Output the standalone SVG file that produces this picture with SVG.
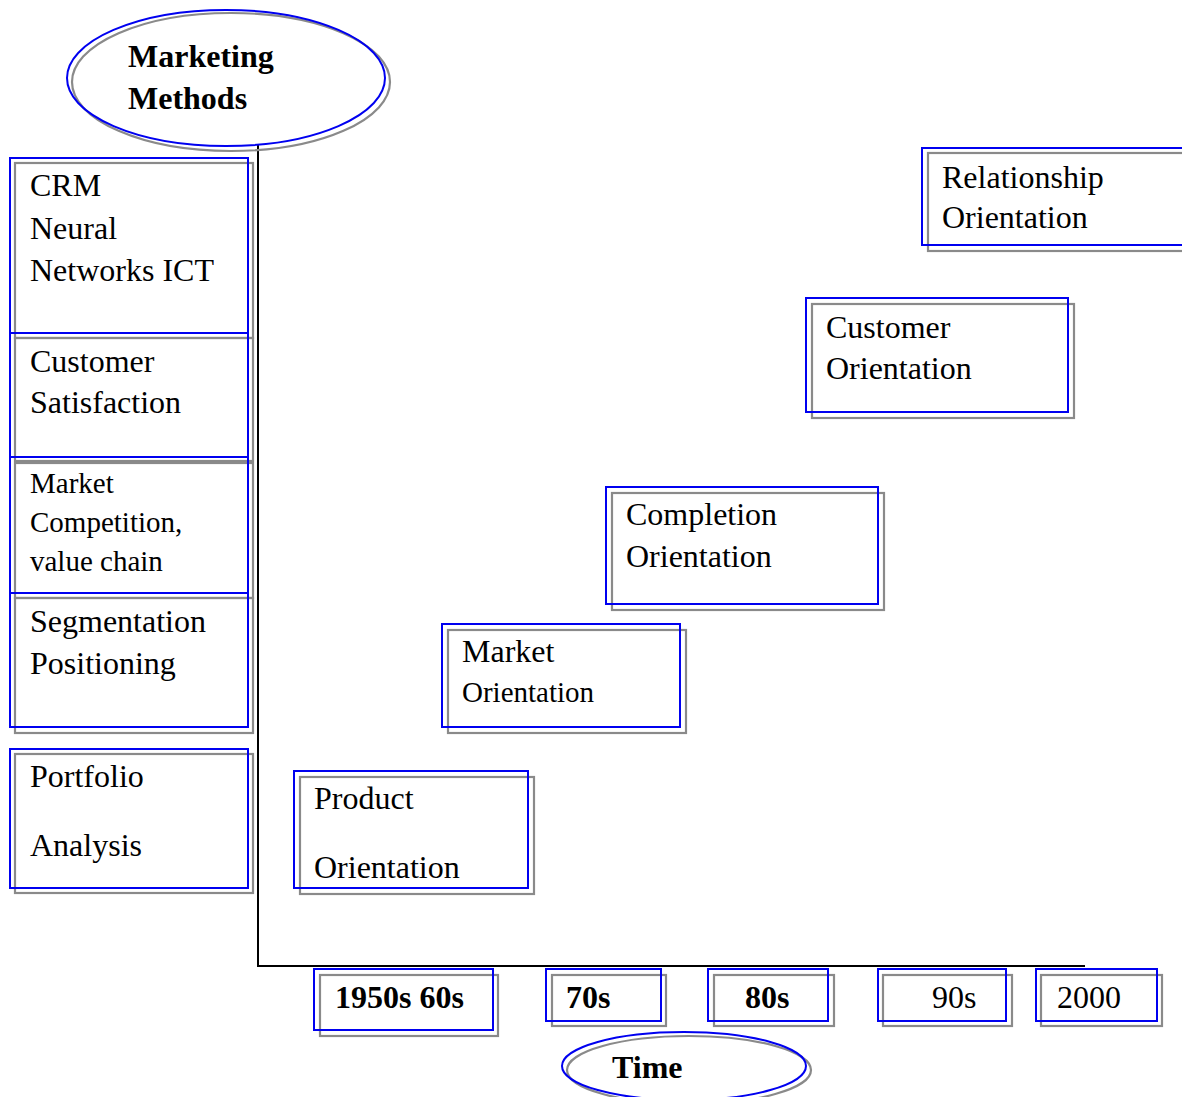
<svg xmlns="http://www.w3.org/2000/svg" width="1182" height="1097" viewBox="0 0 1182 1097">
<style>
.b{fill:none;stroke:#0000f0;stroke-width:2}
.g{fill:none;stroke:#8a8a8a;stroke-width:2.2}
text{font-family:"Liberation Serif","Times New Roman",serif;fill:#000}
.t{font-size:32px}
.s{font-size:29px}
.bd{font-size:32px;font-weight:bold}
.ax{stroke:#000;stroke-width:2;fill:none}
</style>
<rect width="1182" height="1097" fill="#fff"/>
<g id="connectors">
<path class="ax" d="M258 145 V966 H1085"/>
</g>
<g id="marketing-methods">
<ellipse class="g" cx="231" cy="82" rx="159" ry="69"/>
<ellipse class="b" cx="226" cy="78" rx="159" ry="68"/>
<text class="bd" x="128" y="67">Marketing</text>
<text class="bd" x="128" y="109">Methods</text>
</g>
<g id="crm">
<rect class="g" x="15" y="163" width="238" height="175"/>
<rect class="b" x="10" y="158" width="238" height="175"/>
<text class="t" x="30" y="196">CRM</text>
<text class="t" x="30" y="239">Neural</text>
<text class="t" x="30" y="281">Networks ICT</text>
</g>
<g id="customer-satisfaction">
<rect class="g" x="15" y="338" width="238" height="123"/>
<rect class="b" x="10" y="333" width="238" height="124"/>
<text class="t" x="30" y="372">Customer</text>
<text class="t" x="30" y="413">Satisfaction</text>
</g>
<g id="market-competition">
<rect class="g" x="15" y="463" width="238" height="135"/>
<rect class="b" x="10" y="457" width="238" height="136"/>
<text class="s" x="30" y="493">Market</text>
<text class="s" x="30" y="532">Competition,</text>
<text class="s" x="30" y="571">value chain</text>
</g>
<g id="segmentation">
<rect class="g" x="15" y="598" width="238" height="135"/>
<rect class="b" x="10" y="593" width="238" height="134"/>
<text class="t" x="30" y="632">Segmentation</text>
<text class="t" x="30" y="674">Positioning</text>
</g>
<g id="portfolio">
<rect class="g" x="15" y="754" width="238" height="139"/>
<rect class="b" x="10" y="749" width="238" height="139"/>
<text class="t" x="30" y="787">Portfolio</text>
<text class="t" x="30" y="856">Analysis</text>
</g>
<g id="product-orientation">
<rect class="g" x="300" y="777" width="234" height="117"/>
<rect class="b" x="294" y="771" width="234" height="117"/>
<text class="t" x="314" y="809">Product</text>
<text class="t" x="314" y="878">Orientation</text>
</g>
<g id="market-orientation">
<rect class="g" x="448" y="630" width="238" height="103"/>
<rect class="b" x="442" y="624" width="238" height="103"/>
<text class="t" x="462" y="662">Market</text>
<text class="s" x="462" y="702">Orientation</text>
</g>
<g id="completion-orientation">
<rect class="g" x="612" y="493" width="272" height="117"/>
<rect class="b" x="606" y="487" width="272" height="117"/>
<text class="t" x="626" y="525">Completion</text>
<text class="t" x="626" y="567">Orientation</text>
</g>
<g id="customer-orientation">
<rect class="g" x="812" y="304" width="262" height="114"/>
<rect class="b" x="806" y="298" width="262" height="114"/>
<text class="t" x="826" y="338">Customer</text>
<text class="t" x="826" y="379">Orientation</text>
</g>
<g id="relationship-orientation">
<rect class="g" x="928" y="153" width="262" height="98"/>
<rect class="b" x="922" y="148" width="262" height="97"/>
<text class="t" x="942" y="188">Relationship</text>
<text class="t" x="942" y="228">Orientation</text>
</g>
<g id="t1950">
<rect class="g" x="320" y="975" width="178" height="61"/>
<rect class="b" x="314" y="969" width="179" height="61"/>
<text class="bd" x="335" y="1008">1950s 60s</text>
</g>
<g id="t70">
<rect class="g" x="552" y="975" width="114" height="51"/>
<rect class="b" x="546" y="969" width="115" height="52"/>
<text class="bd" x="566" y="1008">70s</text>
</g>
<g id="t80">
<rect class="g" x="714" y="975" width="120" height="51"/>
<rect class="b" x="708" y="969" width="120" height="52"/>
<text class="bd" x="745" y="1008">80s</text>
</g>
<g id="t90">
<rect class="g" x="883" y="975" width="129" height="51"/>
<rect class="b" x="878" y="969" width="128" height="52"/>
<text class="t" x="932" y="1008">90s</text>
</g>
<g id="t2000">
<rect class="g" x="1041" y="975" width="121" height="51"/>
<rect class="b" x="1036" y="969" width="121" height="52"/>
<text class="t" x="1057" y="1008">2000</text>
</g>
<g id="time">
<ellipse class="g" cx="689" cy="1070" rx="122" ry="34"/>
<ellipse class="b" cx="684" cy="1066" rx="122" ry="34"/>
<text class="bd" x="612" y="1078">Time</text>
</g>
</svg>
